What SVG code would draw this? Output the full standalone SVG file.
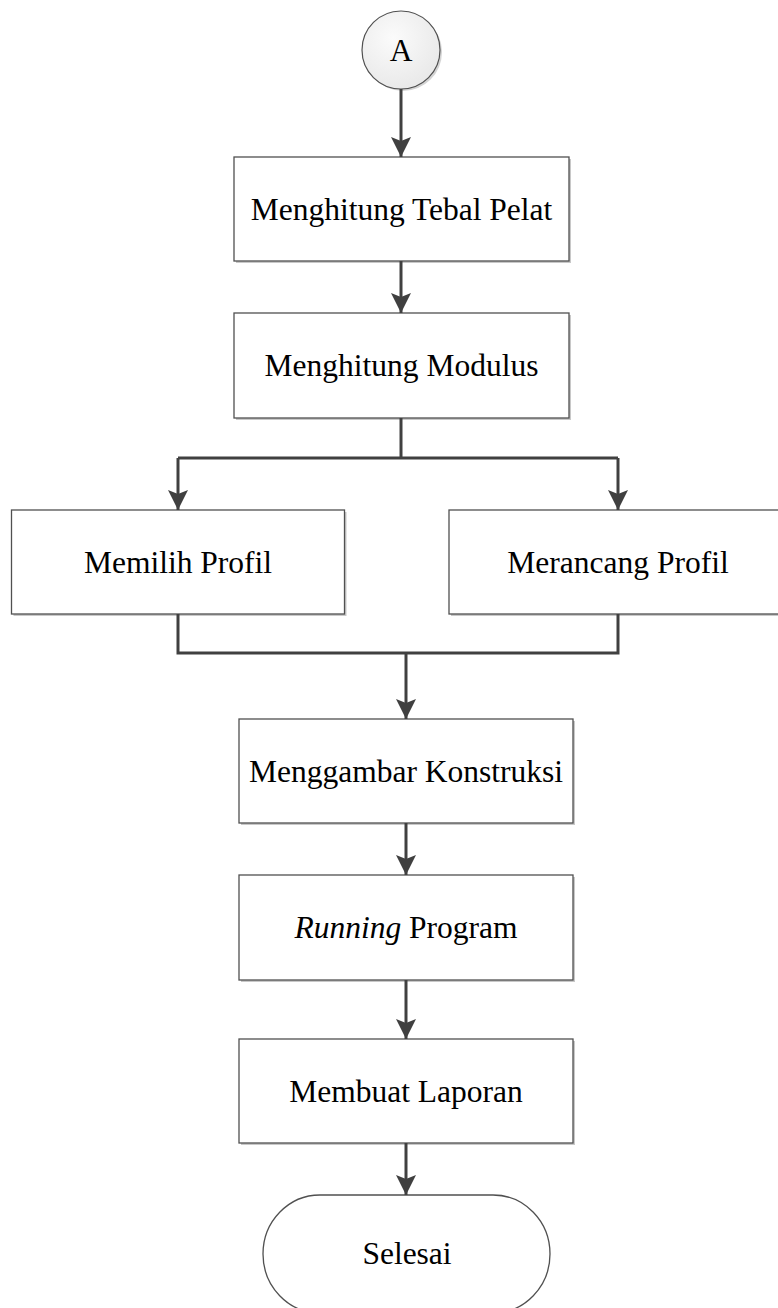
<svg xmlns="http://www.w3.org/2000/svg" width="778" height="1308" viewBox="0 0 778 1308">
  <style>
    .box { fill: #ffffff; stroke: #505050; stroke-width: 1.3; }
    .shadow { fill: #c8c8c8; stroke: none; }
    .label { font-family: "Liberation Serif", "Times New Roman", serif; font-size: 31.5px; fill: #000000; text-anchor: middle; }
    .conn { fill: none; stroke: #404040; stroke-width: 3; }
  </style>
  <defs>
    <marker id="arrow" markerUnits="userSpaceOnUse" markerWidth="22" markerHeight="22" viewBox="0 0 22 22" refX="20" refY="11" orient="auto">
      <path d="M0,1 L20,11 L0,21 L4,11 Z" fill="#404040"/>
    </marker>
    <radialGradient id="circleFill" cx="0.4" cy="0.35" r="0.7">
      <stop offset="0" stop-color="#fbfbfb"/>
      <stop offset="1" stop-color="#e8e8e8"/>
    </radialGradient>
  </defs>

  <rect width="778" height="1308" fill="#ffffff"/>

  <!-- connector A -->
  <g id="node-a">
    <circle cx="403" cy="52" r="39" fill="#d4d4d4"/>
    <circle cx="401" cy="50" r="39" fill="url(#circleFill)" stroke="#505050" stroke-width="1.2"/>
    <text class="label" x="401" y="61">A</text>
  </g>

  <g id="node-tebal">
    <rect class="shadow" x="236" y="159" width="335" height="104"/>
    <rect class="box" x="234" y="157" width="335" height="104"/>
    <text class="label" x="401.5" y="220">Menghitung Tebal Pelat</text>
  </g>

  <g id="node-modulus">
    <rect class="shadow" x="236" y="315" width="335" height="105"/>
    <rect class="box" x="234" y="313" width="335" height="105"/>
    <text class="label" x="401.5" y="376">Menghitung Modulus</text>
  </g>

  <g id="node-memilih">
    <rect class="shadow" x="13.5" y="512" width="333" height="104"/>
    <rect class="box" x="11.5" y="510" width="333" height="104"/>
    <text class="label" x="178" y="573">Memilih Profil</text>
  </g>

  <g id="node-merancang">
    <rect class="shadow" x="451" y="512" width="340" height="104"/>
    <rect class="box" x="449" y="510" width="340" height="104"/>
    <text class="label" x="618" y="573">Merancang Profil</text>
  </g>

  <g id="node-menggambar">
    <rect class="shadow" x="241" y="721" width="334" height="104"/>
    <rect class="box" x="239" y="719" width="334" height="104"/>
    <text class="label" x="406" y="782">Menggambar Konstruksi</text>
  </g>

  <g id="node-running">
    <rect class="shadow" x="241" y="877" width="334" height="105"/>
    <rect class="box" x="239" y="875" width="334" height="105"/>
    <text class="label" x="406" y="938"><tspan font-style="italic">Running</tspan> Program</text>
  </g>

  <g id="node-laporan">
    <rect class="shadow" x="241" y="1041" width="334" height="104"/>
    <rect class="box" x="239" y="1039" width="334" height="104"/>
    <text class="label" x="406" y="1102">Membuat Laporan</text>
  </g>

  <g id="node-selesai">
    <path class="box" d="M320,1195 L493,1195 A57,59 0 0 1 493,1313 L320,1313 A57,59 0 0 1 320,1195 Z"/>
    <text class="label" x="407" y="1264">Selesai</text>
  </g>

  <g id="connectors">
    <line class="conn" x1="401" y1="89" x2="401" y2="157" marker-end="url(#arrow)"/>
    <line class="conn" x1="401" y1="261" x2="401" y2="313" marker-end="url(#arrow)"/>
    <line class="conn" x1="401" y1="418" x2="401" y2="458"/>
    <line class="conn" x1="178" y1="458" x2="618" y2="458"/>
    <path class="conn" d="M178,458 L178,510" marker-end="url(#arrow)"/>
    <path class="conn" d="M618,458 L618,510" marker-end="url(#arrow)"/>
    <path class="conn" d="M178,614 L178,653 L618,653 L618,614"/>
    <line class="conn" x1="406" y1="653" x2="406" y2="719" marker-end="url(#arrow)"/>
    <line class="conn" x1="406" y1="823" x2="406" y2="875" marker-end="url(#arrow)"/>
    <line class="conn" x1="406" y1="980" x2="406" y2="1039" marker-end="url(#arrow)"/>
    <line class="conn" x1="406" y1="1143" x2="406" y2="1195" marker-end="url(#arrow)"/>
  </g>
</svg>
